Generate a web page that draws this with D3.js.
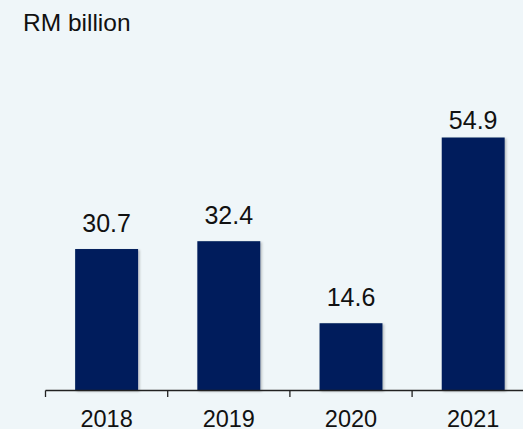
<!DOCTYPE html>
<html>
<head>
<meta charset="utf-8">
<script src="https://cdn.jsdelivr.net/npm/d3@7"></script>
<style>
  html, body { margin: 0; padding: 0; background: #eff6f9; }
  svg { display: block; }
  text { font-family: "Liberation Sans", Arial, sans-serif; fill: #111; }
</style>
</head>
<body>
<svg id="chart" width="523" height="429"></svg>
<script>
// Annual values, RM billion
const years = ["2018", "2019", "2020", "2021"];
const values = [30.7, 32.4, 14.6, 54.9];
const unitLabel = "RM billion";

const W = 523, H = 429;
const svg = d3.select("#chart");

svg.append("rect").attr("width", W).attr("height", H).attr("fill", "#eff6f9");

const defs = svg.append("defs");
const shadow = defs.append("filter").attr("id", "barShadow")
  .attr("x", "-10%").attr("y", "-10%").attr("width", "130%").attr("height", "130%");
shadow.append("feDropShadow")
  .attr("dx", 1.5).attr("dy", 1).attr("stdDeviation", 1.2)
  .attr("flood-color", "#000").attr("flood-opacity", 0.25);

const baseY = 390.5;
const x = d3.scaleBand().domain(years).range([45.5, 534.3]).paddingInner(0.485).paddingOuter(0.2425);
const y = d3.scaleLinear().domain([0, 54.9]).range([baseY, 137.5]);

// bars
svg.append("g").selectAll("rect").data(values).join("rect")
  .attr("x", (d, i) => x(years[i]))
  .attr("y", d => y(d))
  .attr("width", x.bandwidth())
  .attr("height", d => baseY - y(d))
  .attr("fill", "#001f5b")
  .attr("filter", "url(#barShadow)");

// value labels, kept inside the top of the plot
svg.append("g").selectAll("text").data(values).join("text")
  .attr("x", (d, i) => x(years[i]) + x.bandwidth() / 2)
  .attr("y", d => Math.max(y(d) - 17, 128.5))
  .attr("text-anchor", "middle")
  .style("font-size", "25px")
  .text(d => d.toFixed(1));

// category axis with boundary ticks
const axisG = svg.append("g").attr("transform", `translate(0,${baseY})`);
axisG.append("line")
  .attr("x1", x.range()[0]).attr("x2", x.range()[1])
  .attr("stroke", "#222").attr("stroke-width", 1.3);
const step = x.step();
const bounds = d3.range(years.length + 1).map(i => x.range()[0] + i * step);
axisG.selectAll("line.tick").data(bounds).join("line")
  .attr("class", "tick")
  .attr("x1", d => d).attr("x2", d => d)
  .attr("y1", 0).attr("y2", 6.5)
  .attr("stroke", "#222").attr("stroke-width", 1.3);
axisG.selectAll("text").data(years).join("text")
  .attr("x", d => x(d) + x.bandwidth() / 2)
  .attr("y", 36.2)
  .attr("text-anchor", "middle")
  .style("font-size", "23.5px")
  .text(d => d);

// unit title
svg.append("text")
  .attr("x", 23)
  .attr("y", 30.7)
  .style("font-size", "24.5px")
  .text(unitLabel);
</script>
</body>
</html>
